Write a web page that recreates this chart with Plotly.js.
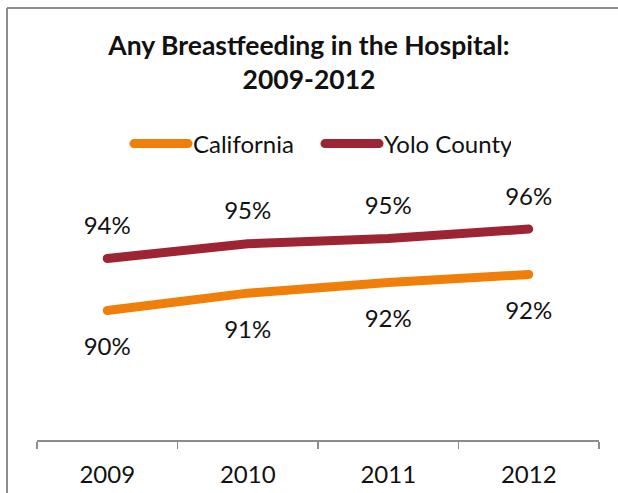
<!DOCTYPE html>
<html>
<head>
<meta charset="utf-8">
<script src="https://cdn.plot.ly/plotly-3.0.1.min.js"></script>
<style>
  html, body { margin: 0; padding: 0; background: #ffffff; }
  #chart { position: absolute; left: 0; top: 0; width: 618px; height: 493px; }
  .scatterlayer path.js-line, .legend path.js-line { stroke-linecap: round; }
</style>
</head>
<body>
<div id="chart"></div>
<script>
const years = ['2009', '2010', '2011', '2012'];
const california = [89.7, 91.0, 91.8, 92.4];
const yolo = [93.6, 94.7, 95.1, 95.8];
const seriesNames = ['California', 'Yolo County'];
const titleLine1 = 'Any Breastfeeding in the Hospital:';
const titleLine2 = '2009-2012';

const FONT = 'Lato, "Open Sans", sans-serif';

const traces = [
  {
    x: years, y: california, name: seriesNames[0],
    type: 'scatter', mode: 'lines+markers+text',
    line: { color: '#F07F09', width: 9 },
    marker: { size: 41, color: 'rgba(0,0,0,0)' },
    texttemplate: '%{y:.0f}%', textposition: 'bottom center',
    textfont: { family: FONT, size: 24, color: '#111111' },
    hoverinfo: 'skip', cliponaxis: false
  },
  {
    x: years, y: yolo, name: seriesNames[1],
    type: 'scatter', mode: 'lines+markers+text',
    line: { color: '#9C2433', width: 9 },
    marker: { size: 28, color: 'rgba(0,0,0,0)' },
    texttemplate: '%{y:.0f}%', textposition: 'top center',
    textfont: { family: FONT, size: 24, color: '#111111' },
    hoverinfo: 'skip', cliponaxis: false
  }
];

// outer chart-area frame (left and top edges visible, as in the source image)
const W = 618, H = 493, ML = 37, MR = 19, MT = 173, MB = 53;
const pw = W - ML - MR, ph = H - MT - MB;
const fx = px => (px - ML) / pw;
const fy = py => (H - MB - py) / ph;

const layout = {
  width: W, height: H,
  paper_bgcolor: '#ffffff', plot_bgcolor: 'rgba(0,0,0,0)',
  margin: { l: ML, r: MR, t: MT, b: MB },
  font: { family: FONT, size: 24, color: '#111111' },
  title: {
    text: '<b>' + titleLine1 + '<br>' + titleLine2 + '</b>',
    font: { family: FONT, size: 26.5, color: '#111111' },
    x: 0.5, xref: 'container', xanchor: 'center',
    y: 1 - 55 / 493, yref: 'container', yanchor: 'middle'
  },
  showlegend: true,
  legend: {
    orientation: 'h', x: 129 / 618, xanchor: 'left', xref: 'container',
    y: 1 - 144 / 493, yref: 'container', yanchor: 'middle',
    font: { family: FONT, size: 24, color: '#111111' },
    itemwidth: 54, entrywidth: 122, entrywidthmode: 'pixels',
    traceorder: 'normal', bgcolor: 'rgba(0,0,0,0)'
  },
  shapes: [
    { type: 'line', xref: 'paper', yref: 'paper', x0: fx(7), x1: fx(7), y0: fy(8), y1: fy(510), line: { color: '#8c8c8c', width: 2 }, layer: 'below' },
    { type: 'line', xref: 'paper', yref: 'paper', x0: fx(7), x1: fx(640), y0: fy(8), y1: fy(8), line: { color: '#8c8c8c', width: 2 }, layer: 'below' }
  ],
  xaxis: {
    type: 'category', range: [-0.5, 3.5], tickson: 'boundaries',
    ticks: 'outside', ticklen: 7, tickwidth: 1.5, tickcolor: '#8c8c8c',
    showline: true, linecolor: '#8c8c8c', linewidth: 1.5,
    showgrid: false, zeroline: false, fixedrange: true,
    tickfont: { family: FONT, size: 24, color: '#111111' },
    ticklabelstandoff: 13
  },
  yaxis: {
    range: [80, 100], visible: false, showgrid: false, zeroline: false, fixedrange: true
  }
};

Plotly.newPlot('chart', traces, layout, { staticPlot: true, displayModeBar: false });
</script>
</body>
</html>
